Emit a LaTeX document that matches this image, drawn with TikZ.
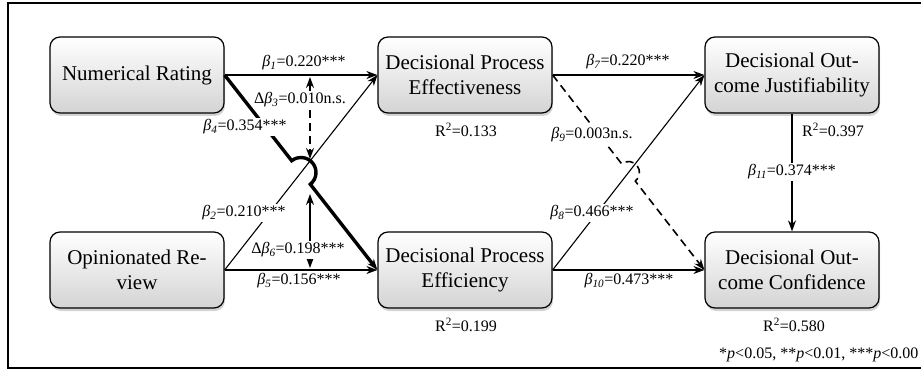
\documentclass[tikz,border=0pt]{standalone}
\usepackage{fontspec}
\setmainfont{Liberation Serif}
\usetikzlibrary{arrows.meta,calc,shadows}
\newcommand{\bt}[1]{\textit{β\textsubscript{#1}}}

\begin{document}
\begin{tikzpicture}[x=1pt,y=1pt,>={Stealth[length=11pt,width=8pt]},line width=1.4pt,every node/.style={font=\fontsize{16}{19}\selectfont},box/.style={draw,rounded corners=10pt,line width=1.2pt,minimum width=174pt,minimum height=76pt,align=center,top color=white,bottom color=black!17,drop shadow={shadow xshift=1pt,shadow yshift=-3pt,opacity=.35},font=\fontsize{21}{25}\selectfont},lab/.style={fill=white,inner sep=1.5pt},tag/.style={inner sep=1pt},link/.style={->,line width=1.6pt},slim/.style={->,line width=1.1pt}]
\path[use as bounding box] (0,0) rectangle (921,370);
\draw[line width=1.6pt] (921,367)--(8,367)--(8,2)--(921,2);

% constructs
\node[box] (nr) at (137,295) {Numerical Rating};
\node[box] (dpe) at (465,295) {Decisional Process\\Effectiveness};
\node[box] (doj) at (792,295) {Decisional Out-\\come Justifiability};
\node[box] (opr) at (137,100) {Opinionated Re-\\view};
\node[box] (dpf) at (465,100) {Decisional Process\\Efficiency};
\node[box] (doc) at (792,100) {Decisional Out-\\come Confidence};

% paths
\draw[link] (nr.east)--(dpe.west);
\draw[link] (opr.east)--(dpf.west);
\draw[slim] (opr.east)--(dpe.west);
\draw[link] (dpe.east)--(doj.west);
\draw[slim] (dpf.east)--(doj.west);
\draw[link] (dpf.east)--(doc.west);
\draw[link] (doj.south)--(doc.north);
\coordinate (hopa) at ($(nr.east)!.5!(dpf.west)$);
\draw[link,line width=3.4pt] (nr.east)--($(hopa)+(128.3:15)$) arc[start angle=128.3,end angle=-51.7,radius=15]--(dpf.west);
\coordinate (hopb) at ($(dpe.east)!.5!(doc.west)$);
\draw[link,dash pattern=on 8pt off 5pt] (dpe.east)--($(hopb)+(128.3:11)$) arc[start angle=128.3,end angle=-51.7,radius=11]--(doc.west);

% moderation
\coordinate (m3t) at (310,293); \coordinate (m3b) at (310,211);
\draw[<->,dash pattern=on 8pt off 5pt] (m3t)--(m3b);
\coordinate (m6t) at (310,176); \coordinate (m6b) at (310,102);
\draw[<->] (m6t)--(m6b);

% coefficients
\node[tag] (b1) at (304,307) {\bt{1}=0.220***};
\node[lab] (d3) at (300,270) {Δ\bt{3}=0.010n.s.};
\node[lab] (b4) at (245,243) {\bt{4}=0.354***};
\node[lab] (b2) at (244,157) {\bt{2}=0.210***};
\node[lab] (d6) at (298,120) {Δ\bt{6}=0.198***};
\node[tag] (b5) at (299,89) {\bt{5}=0.156***};
\node[tag] (b7) at (628,308) {\bt{7}=0.220***};
\node[lab] (b9) at (592,235) {\bt{9}=0.003n.s.};
\node[lab] (b8) at (592,157) {\bt{8}=0.466***};
\node[tag] (b10) at (629,89) {\bt{10}=0.473***};
\node[lab] (b11) at (792,198) {\bt{11}=0.374***};
\node[lab] (r1) at (466,240) {R\textsuperscript{2}=0.133};
\node[lab] (r2) at (466,45) {R\textsuperscript{2}=0.199};
\node[lab] (r3) at (833,240) {R\textsuperscript{2}=0.397};
\node[lab] (r4) at (794,45) {R\textsuperscript{2}=0.580};
\node[anchor=east,inner sep=1pt] (sig) at (920,15) {*\textit{p}<0.05, **\textit{p}<0.01, ***\textit{p}<0.00};

\end{tikzpicture}
\end{document}
